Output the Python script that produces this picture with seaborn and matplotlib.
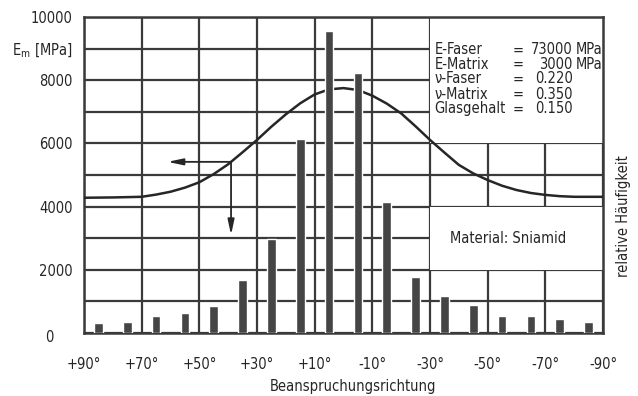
import numpy as np
import pandas as pd
import matplotlib
matplotlib.use("Agg")
import matplotlib.pyplot as plt
from matplotlib.patches import Rectangle
from matplotlib.transforms import ScaledTranslation
import seaborn as sns

# Elastic modulus of the composite vs. loading direction (left axis)
curve_angle = [90, 85, 80, 75, 70, 65, 60, 55, 50, 45, 40, 35, 30, 25, 20, 15, 10, 5, 0,
               -5, -10, -15, -20, -25, -30, -35, -40, -45, -50, -55, -60, -65, -70, -75,
               -80, -85, -90]
curve_modulus = [4280, 4285, 4290, 4300, 4310, 4380, 4470, 4600, 4770, 5030, 5340, 5720,
                 6110, 6530, 6920, 7270, 7550, 7710, 7750, 7690, 7510, 7260, 6950, 6540,
                 6110, 5710, 5320, 5050, 4840, 4660, 4525, 4430, 4370, 4330, 4310, 4310,
                 4310]

# Fibre orientation distribution (right axis, relative frequency)
bar_angle = [85, 75, 65, 55, 45, 35, 25, 15, 5, -5, -15, -25, -35, -45, -55, -65, -75, -85]
bar_freq = [330, 360, 540, 620, 850, 1680, 2970, 6140, 9560, 8230, 4150, 1770, 1170, 890,
            540, 540, 440, 360]

x_ticks = [90, 70, 50, 30, 10, -10, -30, -50, -70, -90]
x_tick_labels = ["+90°", "+70°", "+50°", "+30°", "+10°", "-10°", "-30°", "-50°", "-70°", "-90°"]
y_ticks = [0, 2000, 4000, 6000, 8000, 9000, 10000]
y_tick_labels = ["0", "2000", "4000", "6000", "8000", r"E$_\mathregular{m}$ [MPa]", "10000"]

param_names = ["E-Faser", "E-Matrix", "ν-Faser", "ν-Matrix", "Glasgehalt"]
param_values = ["73000", "3000", "0.220", "0.350", "0.150"]
param_units = ["MPa", "MPa", "", "", ""]
material_label = "Material: Sniamid"

arrow_angle = 39
arrow_left_to = 61
arrow_down_to = 3100

sns.set_theme(style="white")
plt.rcParams["font.family"] = ["DejaVu Sans"]
plt.rcParams["font.stretch"] = "condensed"
plt.rcParams["mathtext.fontset"] = "dejavusans"

ink = "#262626"
grid_c = "#3a3a3a"
fs = 10.5

fig = plt.figure(figsize=(6.38, 3.96), dpi=100)
ax = fig.add_axes([84 / 638, 1 - 333 / 396, (603 - 84) / 638, (333 - 17) / 396])
ax2 = ax.twinx()

# grid: every 1000 MPa and every 20 degrees
ax.set_axisbelow(True)
ax.set_xlim(90, -90)
ax.set_ylim(0, 10000)
ax.set_yticks(np.arange(0, 10001, 1000), minor=True)
ax.set_xticks(x_ticks)
ax.set_xticklabels(x_tick_labels)
ax.set_yticks(y_ticks)
ax.set_yticklabels(y_tick_labels)
ax.grid(True, which="both", color=grid_c, lw=1.6)
ax.tick_params(axis="both", which="both", length=0, colors=ink, labelsize=fs)
ax.tick_params(axis="x", pad=17)
ax.tick_params(axis="y", pad=8)
for s in ax.spines.values():
    s.set_color(grid_c)
    s.set_linewidth(1.8)

# the zero label sits a little left of the others
zero_lbl = ax.get_yticklabels()[0]
zero_lbl.set_transform(zero_lbl.get_transform()
                       + ScaledTranslation(-0.19, -0.03, fig.dpi_scale_trans))

# white panels for the annotations
ax.add_patch(Rectangle((-30, 6000), -60, 4000, facecolor="white", edgecolor="none", zorder=1))
ax.add_patch(Rectangle((-30, 2000), -60, 2000, facecolor="white", edgecolor="none", zorder=1))

# modulus curve
df_curve = pd.DataFrame({"angle": curve_angle, "E": curve_modulus})
sns.lineplot(data=df_curve, x="angle", y="E", ax=ax, color=ink, lw=1.8, zorder=3)

# orientation histogram on the right axis
df_bar = pd.DataFrame({"angle": bar_angle, "freq": bar_freq})
sns.barplot(data=df_bar, x="angle", y="freq", ax=ax2, native_scale=True, width=0.3,
            color="#454545", saturation=1, errorbar=None, zorder=2)
ax2.set_xlim(90, -90)
ax2.set_ylim(0, 10000)
ax2.set_yticks([])
ax2.set_ylabel("relative Häufigkeit", color=ink, fontsize=fs)
ax2.yaxis.set_label_coords(1.025, 0.37)
for s in ax2.spines.values():
    s.set_visible(False)

ax.set_xlabel("Beanspruchungsrichtung", color=ink, fontsize=fs)
ax.xaxis.set_label_coords(0.518, -0.145)
ax.set_ylabel("")

# arrow pointing to the modulus axis
ay = float(np.interp(-arrow_angle, -np.array(curve_angle), curve_modulus))
arrow_kw = dict(arrowstyle="-|>,head_length=0.75,head_width=0.16", color=ink, lw=1.3,
                shrinkA=0, shrinkB=0)
ax.annotate("", xy=(arrow_left_to, ay), xytext=(arrow_angle, ay), arrowprops=arrow_kw, zorder=4)
ax.annotate("", xy=(arrow_angle, arrow_down_to), xytext=(arrow_angle, ay), arrowprops=arrow_kw,
            zorder=4)

# material parameters
pfs = 10.5
row_y = [8960, 8510, 8040, 7560, 7090]
for name, val, unit, yy in zip(param_names, param_values, param_units, row_y):
    ax.text(-31.5, yy, name, ha="left", va="center", fontsize=pfs, color=ink, zorder=5)
    ax.text(-60.5, yy, "=", ha="center", va="center", fontsize=pfs, color=ink, zorder=5)
    ax.text(-79.5, yy, val, ha="right", va="center", fontsize=pfs, color=ink, zorder=5)
    if unit:
        ax.text(-80.5, yy, unit, ha="left", va="center", fontsize=pfs, color=ink, zorder=5)
ax.text(-57, 2980, material_label, ha="center", va="center", fontsize=pfs, color=ink, zorder=5)

fig.savefig("out.png", dpi=100, facecolor="white")
